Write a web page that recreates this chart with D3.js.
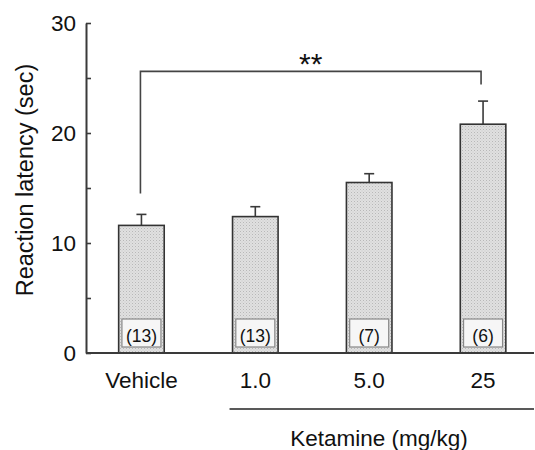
<!DOCTYPE html>
<html>
  <head>
    <style>
      body { margin: 0; background: #fff; }
      text { font-family: Arial, "Liberation Sans", sans-serif; fill: #111; }
    </style>
    <script src="https://d3js.org/d3.v7.min.js"></script>
  </head>
  <body>
    <svg id="chart" width="535" height="450"></svg>

    <script>
      var categories = ["Vehicle", "1.0", "5.0", "25"];
      var means = [11.6, 12.4, 15.5, 20.8];
      var sems = [1.0, 0.9, 0.8, 2.1];
      var nLabels = ["(13)", "(13)", "(7)", "(6)"];
      var yTicks = [0, 5, 10, 15, 20, 25, 30];
      // significance bracket: Vehicle vs 25
      var bracketFrom = "Vehicle", bracketTo = "25";
      var bracketLevels = [14.5, 25.6, 24.4]; // left foot, top, right foot
      var bracketLabel = "**";

      var svg = d3.select("#chart");
      var axisColor = "#3a3a3a";

      var y = d3.scaleLinear().domain([0, 30]).range([353, 23]);
      var x = d3.scaleBand().domain(categories).range([84.5, 540])
        .paddingInner(0.6).paddingOuter(0.3);

      // stippled grey fill for bars
      var defs = svg.append("defs");
      var pat = defs.append("pattern")
        .attr("id", "stipple")
        .attr("width", 3).attr("height", 3)
        .attr("patternUnits", "userSpaceOnUse");
      pat.append("rect").attr("width", 3).attr("height", 3).attr("fill", "#e0e0e0");
      pat.append("rect").attr("x", 0).attr("y", 0).attr("width", 1).attr("height", 1).attr("fill", "#b8b8b8");
      pat.append("rect").attr("x", 1.5).attr("y", 1.5).attr("width", 1).attr("height", 1).attr("fill", "#c8c8c8");

      // error bars (upward only)
      var err = svg.append("g").attr("stroke", axisColor).attr("stroke-width", 1.6);
      categories.forEach(function(c, i) {
        var cx = x(c) + x.bandwidth() / 2;
        err.append("line")
          .attr("x1", cx).attr("x2", cx)
          .attr("y1", y(means[i])).attr("y2", y(means[i] + sems[i]));
        err.append("line")
          .attr("x1", cx - 5).attr("x2", cx + 5)
          .attr("y1", y(means[i] + sems[i])).attr("y2", y(means[i] + sems[i]));
      });

      // bars
      svg.append("g").selectAll("rect")
        .data(categories)
        .join("rect")
        .attr("x", function(d) { return x(d); })
        .attr("y", function(d, i) { return y(means[i]); })
        .attr("width", x.bandwidth())
        .attr("height", function(d, i) { return y(0) - y(means[i]); })
        .attr("fill", "url(#stipple)")
        .attr("stroke", "#333")
        .attr("stroke-width", 1.6);

      // n boxes
      var nb = svg.append("g");
      categories.forEach(function(c, i) {
        var cx = x(c) + x.bandwidth() / 2;
        nb.append("rect")
          .attr("x", cx - 19.5).attr("y", y(0) - 34)
          .attr("width", 39).attr("height", 28)
          .attr("fill", "#f6f6f6")
          .attr("stroke", "#888").attr("stroke-width", 1.2);
        nb.append("text")
          .attr("x", cx).attr("y", y(0) - 11)
          .attr("text-anchor", "middle")
          .attr("font-size", 17.5)
          .text(nLabels[i]);
      });

      // y axis
      var yAxis = svg.append("g")
        .attr("transform", "translate(86,0)")
        .call(d3.axisRight(y).tickValues(yTicks).tickSize(5).tickSizeOuter(0)
          .tickFormat(function(d) { return d % 10 === 0 ? d : ""; }));
      yAxis.select(".domain").attr("stroke", axisColor).attr("stroke-width", 2);
      yAxis.selectAll(".tick line").attr("stroke", axisColor).attr("stroke-width", 1.6);
      yAxis.selectAll(".tick text")
        .attr("x", -10).attr("text-anchor", "end")
        .attr("font-size", 22.5).attr("fill", "#111");

      // baseline
      svg.append("line")
        .attr("x1", 86).attr("x2", 534)
        .attr("y1", y(0)).attr("y2", y(0))
        .attr("stroke", axisColor).attr("stroke-width", 2);

      // x tick labels
      var xAxis = svg.append("g")
        .attr("transform", "translate(0," + y(0) + ")")
        .call(d3.axisBottom(x).tickSize(0).tickPadding(19));
      xAxis.select(".domain").remove();
      xAxis.selectAll(".tick text").attr("font-size", 22.5).attr("fill", "#111");

      // Ketamine group line and label
      var ketStart = x("1.0") - 3;
      svg.append("line")
        .attr("x1", ketStart).attr("x2", 534)
        .attr("y1", 409).attr("y2", 409)
        .attr("stroke", "#222").attr("stroke-width", 1.6);
      svg.append("text")
        .attr("x", 379).attr("y", 446)
        .attr("text-anchor", "middle")
        .attr("font-size", 22.5)
        .text("Ketamine (mg/kg)");

      // y label
      svg.append("text")
        .attr("transform", "translate(33,180) rotate(-90)")
        .attr("text-anchor", "middle")
        .attr("font-size", 23.5)
        .text("Reaction latency (sec)");

      // significance bracket
      var bx1 = x(bracketFrom) + x.bandwidth() / 2 - 1;
      var bx2 = x(bracketTo) + x.bandwidth() / 2 - 2;
      svg.append("path")
        .attr("d", d3.line()([
          [bx1, y(bracketLevels[0])],
          [bx1, y(bracketLevels[1])],
          [bx2, y(bracketLevels[1])],
          [bx2, y(bracketLevels[2])]
        ]))
        .attr("fill", "none")
        .attr("stroke", "#444").attr("stroke-width", 1.6);
      svg.append("text")
        .attr("x", (bx1 + bx2) / 2).attr("y", y(bracketLevels[1]) + 3)
        .attr("text-anchor", "middle")
        .attr("font-size", 30)
        .text(bracketLabel);
    </script>
  </body>
</html>
